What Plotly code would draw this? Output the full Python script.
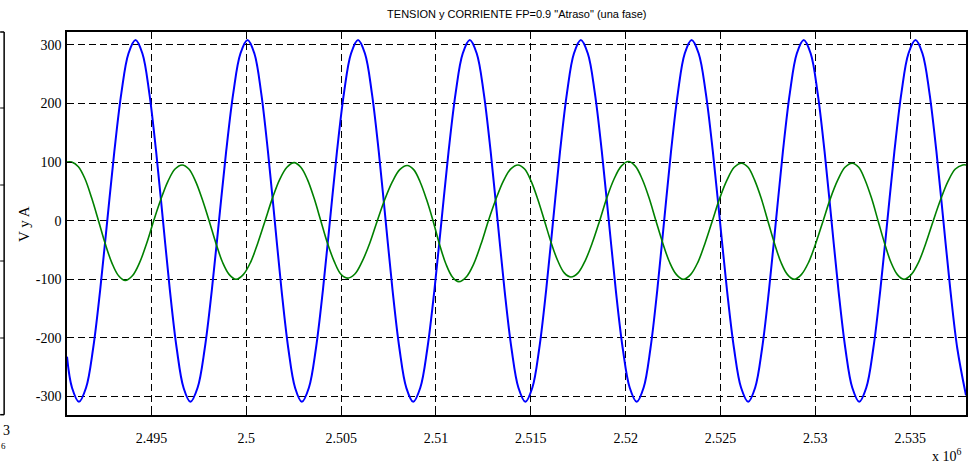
import plotly.graph_objects as go

# ---- data (x in samples, shown as x 10^6) ----
tension_x = [2490544, 2490808, 2491175,
             2491548, 2491921, 2492294, 2492667, 2493040, 2493412, 2493785, 2494158,
             2494520, 2494882, 2495243, 2495605, 2495967, 2496329, 2496690, 2497052,
             2497429, 2497806, 2498182, 2498559, 2498936, 2499313, 2499689, 2500066,
             2500424, 2500782, 2501139, 2501497, 2501855, 2502213, 2502570, 2502928,
             2503298, 2503669, 2504039, 2504409, 2504779, 2505150, 2505520, 2505890,
             2506254, 2506617, 2506981, 2507345, 2507708, 2508072, 2508435, 2508799,
             2509172, 2509545, 2509918, 2510291, 2510664, 2511037, 2511410, 2511783,
             2512149, 2512516, 2512882, 2513248, 2513614, 2513981, 2514347, 2514713,
             2515079, 2515444, 2515810, 2516176, 2516541, 2516907, 2517273, 2517638,
             2518006, 2518375, 2518743, 2519111, 2519479, 2519848, 2520216, 2520584,
             2520946, 2521308, 2521669, 2522031, 2522393, 2522755, 2523116, 2523478,
             2523851, 2524224, 2524597, 2524970, 2525342, 2525715, 2526088, 2526461,
             2526827, 2527194, 2527560, 2527926, 2528292, 2528659, 2529025, 2529391,
             2529757, 2530122, 2530488, 2530854, 2531219, 2531585, 2531951, 2532316,
             2532687, 2533058, 2533429, 2533800, 2534170, 2534541, 2534912, 2535283,
             2535651, 2536018, 2536386, 2536753, 2537121, 2537488, 2537946]
tension_y = [-232, -285, -309,
             -285, -218, -118, 0, 118, 218, 285, 308,
             285, 218, 118, 0, -118, -218, -285, -309,
             -285, -218, -118, 0, 118, 218, 285, 308,
             285, 218, 118, 0, -118, -218, -285, -309,
             -285, -218, -118, 0, 118, 218, 285, 308,
             285, 218, 118, 0, -118, -218, -285, -309,
             -285, -218, -118, 0, 118, 218, 285, 308,
             285, 218, 118, 0, -118, -218, -285, -309,
             -285, -218, -118, 0, 118, 218, 285, 308,
             285, 218, 118, 0, -118, -218, -285, -309,
             -285, -218, -118, 0, 118, 218, 285, 308,
             285, 218, 118, 0, -118, -218, -285, -309,
             -285, -218, -118, 0, 118, 218, 285, 308,
             285, 218, 118, 0, -118, -218, -285, -309,
             -285, -218, -118, 0, 118, 218, 285, 308,
             285, 218, 118, 0, -118, -218, -298]

corriente_x = [2490544, 2490791,
               2491144, 2491497, 2491850, 2492204, 2492557, 2492910, 2493263, 2493616,
               2493991, 2494366, 2494741, 2495116, 2495490, 2495865, 2496240, 2496615,
               2496970, 2497325, 2497680, 2498036, 2498391, 2498746, 2499101, 2499456,
               2499839, 2500223, 2500606, 2500990, 2501373, 2501756, 2502140, 2502523,
               2502874, 2503224, 2503575, 2503925, 2504276, 2504626, 2504977, 2505327,
               2505722, 2506116, 2506511, 2506906, 2507300, 2507695, 2508089, 2508484,
               2508824, 2509164, 2509504, 2509844, 2510184, 2510524, 2510864, 2511204,
               2511594, 2511984, 2512374, 2512764, 2513154, 2513544, 2513934, 2514324,
               2514673, 2515021, 2515370, 2515718, 2516067, 2516415, 2516764, 2517112,
               2517492, 2517871, 2518251, 2518630, 2519010, 2519389, 2519769, 2520148,
               2520510, 2520871, 2521233, 2521595, 2521956, 2522318, 2522679, 2523041,
               2523424, 2523808, 2524191, 2524575, 2524958, 2525341, 2525725, 2526108,
               2526455, 2526801, 2527148, 2527495, 2527841, 2528188, 2528534, 2528881,
               2529264, 2529648, 2530031, 2530415, 2530798, 2531181, 2531565, 2531948,
               2532288, 2532628, 2532968, 2533308, 2533648, 2533988, 2534328, 2534668,
               2535056, 2535444, 2535832, 2536220, 2536608, 2536996, 2537384, 2537772,
               2537946]
corriente_y = [100, 100,
               92, 71, 38, 0, -39, -72, -94, -102,
               -94, -72, -39, 0, 36, 67, 88, 95,
               88, 67, 36, 0, -38, -71, -92, -100,
               -92, -71, -38, 0, 38, 70, 91, 99,
               91, 70, 38, 0, -38, -69, -91, -98,
               -91, -69, -38, 0, 36, 66, 87, 94,
               87, 66, 36, 0, -40, -74, -96, -104,
               -96, -74, -40, 0, 36, 67, 88, 95,
               88, 67, 36, 0, -37, -68, -89, -96,
               -89, -68, -37, 0, 39, 71, 93, 101,
               93, 71, 39, 0, -38, -71, -92, -100,
               -92, -71, -38, 0, 38, 69, 91, 98,
               91, 69, 38, 0, -38, -71, -92, -100,
               -92, -71, -38, 0, 38, 69, 91, 98,
               91, 69, 38, 0, -38, -71, -92, -100,
               -92, -71, -38, 0, 36, 67, 88, 95,
               95]

x_tickvals = [2495000, 2500000, 2505000, 2510000, 2515000, 2520000, 2525000, 2530000, 2535000]
x_ticktext = ["2.495", "2.5", "2.505", "2.51", "2.515", "2.52", "2.525", "2.53", "2.535"]
y_tickvals = [-300, -200, -100, 0, 100, 200, 300]
y_ticktext = ["-300", "-200", "-100", "0", "100", "200", "300"]

title_text = 'TENSION y CORRIENTE FP=0.9 "Atraso" (una fase)'
ylabel_text = "V y A"

W, H = 970, 468
L, R, T, B = 67, 2, 32, 53
PW, PH = W - L - R, H - T - B

def px(xp):
    return (xp - L) / PW

def py(yp):
    return (H - B - yp) / PH

fig = go.Figure()
fig.add_trace(go.Scatter(x=tension_x, y=tension_y, mode="lines",
                         line=dict(color="#0000ff", width=2, shape="spline", smoothing=1.0),
                         showlegend=False))
fig.add_trace(go.Scatter(x=corriente_x, y=corriente_y, mode="lines",
                         line=dict(color="#008000", width=1.6, shape="spline", smoothing=1.0),
                         showlegend=False))

serif = "Liberation Serif, Times New Roman, serif"
axis_common = dict(showline=True, linecolor="black", linewidth=1.5, mirror="ticks",
                   ticks="inside", ticklen=5, tickcolor="black", tickwidth=1,
                   showgrid=True, gridcolor="black", gridwidth=1, griddash="7px,4px",
                   zeroline=False, tickfont=dict(family=serif, size=14, color="black"))

fig.update_xaxes(range=[2490544, 2537946], tickmode="array", tickvals=x_tickvals,
                 ticktext=x_ticktext, ticklabelstandoff=9, **axis_common)
fig.update_yaxes(range=[-331.4, 321.7], tickmode="array", tickvals=y_tickvals,
                 ticktext=y_ticktext, ticklabelstandoff=1, **axis_common)

shapes = []
# remnant of neighbouring axes at the far left
shapes.append(dict(type="line", xref="paper", yref="paper", x0=px(4), x1=px(4),
                   y0=py(32), y1=py(414.7), line=dict(color="black", width=1.5)))
shapes.append(dict(type="line", xref="paper", yref="paper", x0=px(0), x1=px(4),
                   y0=py(32), y1=py(32), line=dict(color="black", width=1.5)))
shapes.append(dict(type="line", xref="paper", yref="paper", x0=px(0), x1=px(4),
                   y0=py(414.7), y1=py(414.7), line=dict(color="black", width=1.5)))
for yy in [108, 185, 261, 338]:
    shapes.append(dict(type="line", xref="paper", yref="paper", x0=px(0), x1=px(4),
                       y0=py(yy), y1=py(yy), line=dict(color="black", width=1)))

annotations = [
    dict(text=ylabel_text, xref="paper", yref="paper", x=px(24), y=py(224),
         showarrow=False, textangle=-90, font=dict(family=serif, size=15, color="black"),
         xanchor="center", yanchor="middle"),
    dict(text="x 10<sup>6</sup>", xref="paper", yref="paper", x=px(966), y=py(455),
         showarrow=False, font=dict(family=serif, size=14, color="black"),
         xanchor="right", yanchor="middle"),
    dict(text="3", xref="paper", yref="paper", x=px(6), y=py(430),
         showarrow=False, font=dict(family=serif, size=14, color="black"),
         xanchor="center", yanchor="middle"),
    dict(text="6", xref="paper", yref="paper", x=px(3), y=py(446),
         showarrow=False, font=dict(family=serif, size=9, color="black"),
         xanchor="center", yanchor="middle"),
]

fig.update_layout(
    width=W, height=H, margin=dict(l=L, r=R, t=T, b=B),
    paper_bgcolor="white", plot_bgcolor="white",
    title=dict(text=title_text, x=px(517.8), xref="paper", y=1 - 14 / H, yref="container",
               xanchor="center", yanchor="middle",
               font=dict(family="Liberation Sans, Arial, sans-serif", size=11, color="black")),
    shapes=shapes, annotations=annotations,
)

fig.write_html("out.html", config={"displayModeBar": False},
               post_script="document.body.style.margin='0';document.body.style.padding='0';")
